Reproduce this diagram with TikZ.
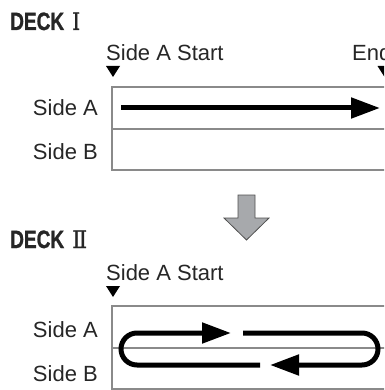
\documentclass[tikz,border=0pt]{standalone}
\usepackage{graphicx}
\usepackage{fontspec}
\setmainfont{Liberation Sans}
\newfontfamily\deckfont{Liberation Sans Bold}[FakeBold=1.2]
\newfontfamily\romfont{DejaVu Serif}[FakeBold=0.8]
\usetikzlibrary{arrows.meta}
\definecolor{tapegray}{HTML}{8A8A8A}
\definecolor{arrowgray}{HTML}{A7A9AC}
\definecolor{arrowedge}{HTML}{505050}
\newcommand\deckword{\resizebox{54pt}{17.5pt}{\deckfont DECK}}
\newcommand\romnum[2]{\resizebox{#1}{17.5pt}{\romfont #2}}
\begin{document}
\begin{tikzpicture}[x=1pt,y=-1pt,
  lbl/.style={font=\fontsize{22}{24}\selectfont, inner sep=0pt, text=black!85},
  deck/.style={inner sep=0pt, text=black!85},
  tape/.style={draw=tapegray, line width=2.2pt},
  flow/.style={line width=5pt, -{Triangle[length=29pt,width=20pt]}},
  loopflow/.style={flow, rounded corners=16pt},
  marker/.style={fill=black},
  bigarrow/.style={fill=arrowgray, draw=arrowedge, line width=0.8pt, line join=miter}
]
\useasboundingbox (0,0) rectangle (384,390);
\clip (0,0) rectangle (384,390);

% ---------- DECK I ----------
\node[deck, anchor=base west] (deck1) at (10,30) {\deckword\hspace{8pt}\romnum{8pt}{Ⅰ}};
\node[lbl, anchor=base west] (start1) at (106,61) {Side A Start};
\node[lbl, anchor=base east] (end1) at (391.5,61) {End};
\fill[marker] (106,66) -- (120,66) -- (113,77) -- cycle;
\fill[marker] (377.5,66) -- (391.5,66) -- (384.5,77) -- cycle;

\coordinate (b1tl) at (112,87);
\coordinate (b1br) at (400,170);
\coordinate (b1ml) at (112,129);
\coordinate (b1mr) at (400,129);
\draw[tape] (b1tl) rectangle (b1br);
\draw[tape] (b1ml) -- (b1mr);

\node[lbl, anchor=base east] (a1) at (98,115.5) {Side A};
\node[lbl, anchor=base east] (bb1) at (98,160) {Side B};

\coordinate (f1s) at (121,108);
\coordinate (f1e) at (380,108);
\draw[flow] (f1s) -- (f1e);

% ---------- big arrow ----------
\draw[bigarrow] (238,195) -- (255,195) -- (255,218) -- (269,218) -- (246.5,240)
  -- (224,218) -- (238,218) -- cycle;

% ---------- DECK II ----------
\node[deck, anchor=base west] (deck2) at (10,248) {\deckword\hspace{8pt}\romnum{15pt}{Ⅱ}};
\node[lbl, anchor=base west] (start2) at (106,280) {Side A Start};
\fill[marker] (106,286) -- (120,286) -- (113,297) -- cycle;

\coordinate (b2tl) at (112,306);
\coordinate (b2br) at (400,389);
\coordinate (b2ml) at (112,348);
\coordinate (b2mr) at (400,348);
\draw[tape] (b2tl) rectangle (b2br);
\draw[tape] (b2ml) -- (b2mr);

\node[lbl, anchor=base east] (a2) at (98,337) {Side A};
\node[lbl, anchor=base east] (bb2) at (98,381) {Side B};

\coordinate (p2s) at (260,365);
\coordinate (p2l1) at (121,365);
\coordinate (p2l2) at (121,333);
\coordinate (p2e) at (231,333);
\draw[loopflow] (p2s) -- (p2l1) -- (p2l2) -- (p2e);

\coordinate (p1s) at (243,333);
\coordinate (p1r1) at (378,333);
\coordinate (p1r2) at (378,365);
\coordinate (p1e) at (270,365);
\draw[loopflow] (p1s) -- (p1r1) -- (p1r2) -- (p1e);
\end{tikzpicture}
\end{document}
